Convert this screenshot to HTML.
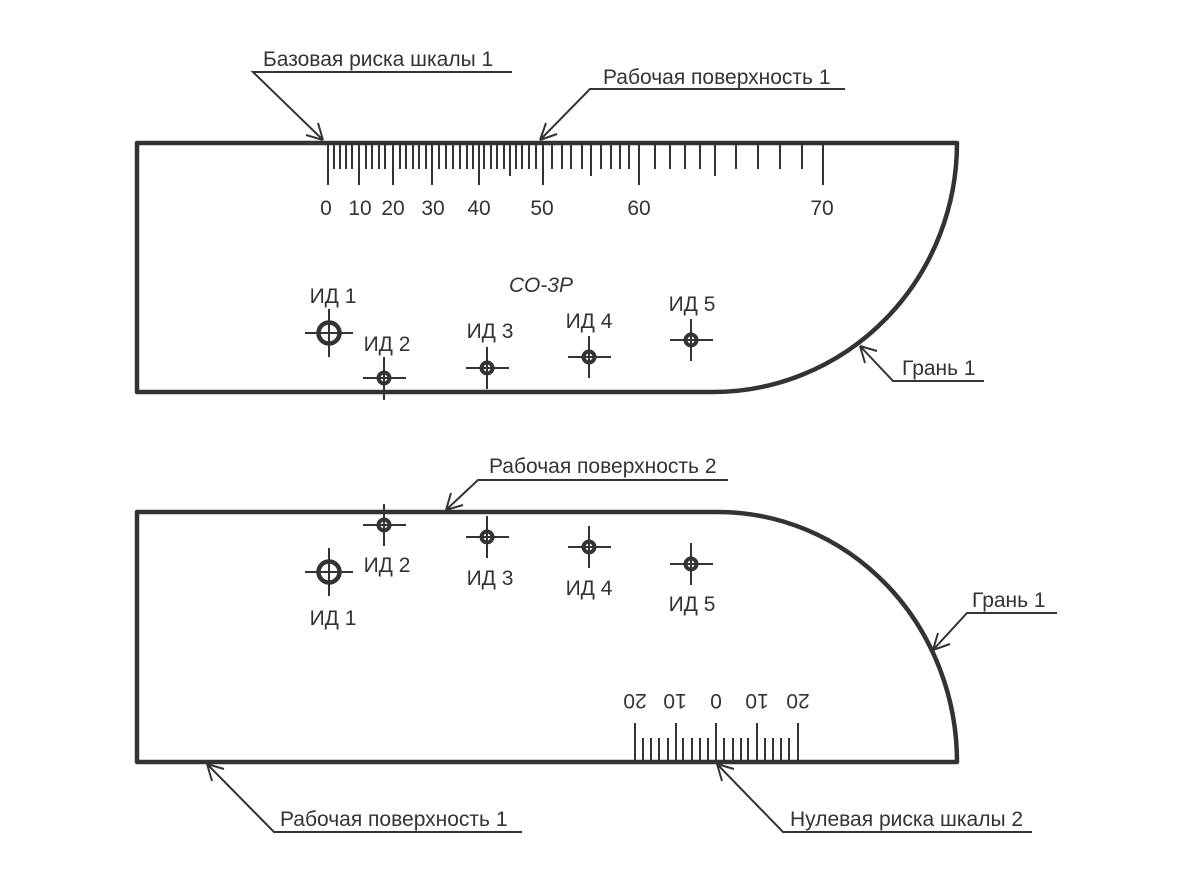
<!DOCTYPE html>
<html><head><meta charset="utf-8"><style>
html,body{margin:0;padding:0;background:#fff;width:1200px;height:879px;overflow:hidden}
svg text{font-family:"Liberation Sans","DejaVu Sans",sans-serif;fill:#333;font-size:21px}
</style></head><body>
<svg width="1200" height="879" viewBox="0 0 1200 879" xmlns="http://www.w3.org/2000/svg">
<g stroke="#333" fill="none" stroke-linecap="butt">
<path d="M137,143 H957 A244,249 0 0 1 713,392 H137 Z" stroke-width="4.5" stroke-linejoin="round"/>
<path d="M137,512 H718 A239,250 0 0 1 957,762 H137 Z" stroke-width="4.5" stroke-linejoin="round"/>
<g stroke-width="2">
<path d="M328,143V185 M359,143V185 M393,143V185 M432,143V185 M479,143V185 M543,143V185 M639,143V185 M823,143V185"/>
<path d="M334,143V169 M340,143V169 M346,143V169 M352,143V169
M366,143V169 M372,143V169 M379,143V169 M385,143V169
M400,143V169 M406,143V169 M413,143V169 M419,143V169 M426,143V169
M439,143V169 M446,143V169 M453,143V169 M460,143V169 M467,143V169 M473,143V169
M484,143V169 M491,143V169 M497,143V169 M504,143V169 M510,143V176 M516,143V169 M522,143V169 M529,143V169 M536,143V169
M552,143V169 M562,143V169 M571,143V169 M582,143V169 M591,143V176 M601,143V169 M611,143V169 M620,143V169 M629,143V169
M655,143V169 M670,143V169 M685,143V169 M700,143V169 M715,143V176 M736,143V169 M758,143V169 M780,143V169 M802,143V169"/>
</g>
<g stroke-width="2">
<path d="M635,762V723 M676,762V723 M716,762V723 M757,762V723 M798,762V723"/>
<path d="M643,762V738 M651,762V738 M659,762V738 M668,762V738 M683,762V738 M692,762V738 M700,762V738 M708,762V738 M724,762V738 M733,762V738 M741,762V738 M748,762V738 M765,762V738 M773,762V738 M781,762V738 M789,762V738"/>
</g>
<g stroke-width="2">
<path d="M512,72H253L323,140 M323,140l-5,-17 M323,140l-17,-5"/>
<path d="M845,89H590L540,140 M540,140l17,-6 M540,140l6,-17"/>
<path d="M984,381H893L860,346 M860,346l5,17 M860,346l17,5"/>
<path d="M728,480H478L446,510 M446,510l17,-5 M446,510l5,-17"/>
<path d="M1057,613H967L933,650 M933,650l17,-6 M933,650l5,-17"/>
<path d="M522,832H274L207,764 M207,764l5,17 M207,764l17,5"/>
<path d="M1032,832H783L717,764 M717,764l5,17 M717,764l17,5"/>
</g>
<g stroke-width="2">
<path d="M305,333H353 M329,309V357"/>
<path d="M363,378H406 M384,357V400"/>
<path d="M466,368H509 M487,347V389"/>
<path d="M568,357H611 M589,336V378"/>
<path d="M670,340H713 M691,319V361"/>
<path d="M305,572H353 M329,548V596"/>
<path d="M363,525H406 M384,504V546"/>
<path d="M466,537H509 M487,516V558"/>
<path d="M568,547H611 M589,526V568"/>
<path d="M670,564H713 M691,543V585"/>
</g>
<g stroke-width="4.5">
<circle cx="329" cy="333" r="10.5"/><circle cx="329" cy="572" r="10.5"/>
</g>
<g stroke-width="4">
<circle cx="384" cy="378" r="5.5"/><circle cx="487" cy="368" r="5.5"/><circle cx="589" cy="357" r="5.5"/><circle cx="691" cy="340" r="5.5"/>
<circle cx="384" cy="525" r="5.5"/><circle cx="487" cy="537" r="5.5"/><circle cx="589" cy="547" r="5.5"/><circle cx="691" cy="564" r="5.5"/>
</g>
</g>
<text x="263" y="66">Базовая риска шкалы 1</text>
<text x="603" y="84">Рабочая поверхность 1</text>
<text x="902" y="375">Грань 1</text>
<text x="489" y="473">Рабочая поверхность 2</text>
<text x="972" y="607">Грань 1</text>
<text x="280" y="826">Рабочая поверхность 1</text>
<text x="790" y="826">Нулевая риска шкалы 2</text>
<g text-anchor="middle">
<text x="326" y="215">0</text><text x="360" y="215">10</text><text x="393" y="215">20</text><text x="433" y="215">30</text><text x="479" y="215">40</text><text x="542" y="215">50</text><text x="639" y="215">60</text><text x="822" y="215">70</text>
<text x="541" y="292" font-style="italic">СО-3Р</text>
<text x="333" y="303">ИД 1</text><text x="387" y="351">ИД 2</text><text x="490" y="338">ИД 3</text><text x="589" y="328">ИД 4</text><text x="692" y="311">ИД 5</text>
<text x="333" y="625">ИД 1</text><text x="387" y="572">ИД 2</text><text x="490" y="585">ИД 3</text><text x="589" y="595">ИД 4</text><text x="692" y="611">ИД 5</text>
<g transform="rotate(180 716 702)">
<text x="634" y="710">20</text><text x="675" y="710">10</text><text x="716" y="710">0</text><text x="757" y="710">10</text><text x="797" y="710">20</text>
</g>
</g>
</svg>
</body></html>
